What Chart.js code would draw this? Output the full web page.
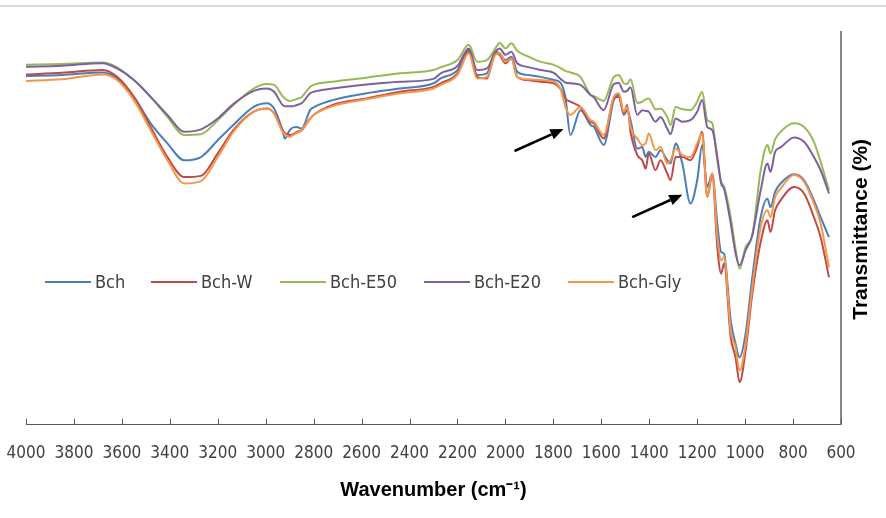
<!DOCTYPE html>
<html>
<head>
<meta charset="utf-8">
<script src="https://cdn.jsdelivr.net/npm/chart.js@4.4.0/dist/chart.umd.min.js"></script>
<style>
  html, body { margin: 0; padding: 0; background: #fff; }
</style>
</head>
<body>
<canvas id="ftir" width="886" height="518"></canvas>
<script>
// wavenumber (cm-1) sampling points
const wavenumbers = [4000,3850,3680,3620,3550,3480,3410,3340,3270,3200,3135,3050,2995,2965,2930,2920,2900,2885,2870,2850,2815,2800,2720,2580,2440,2300,2270,2200,2153,2118,2077,2042,2024,2000,1975,1951,1909,1854,1798,1770,1750,1729,1687,1645,1631,1590,1548,1527,1506,1492,1478,1450,1429,1415,1402,1374,1353,1325,1311,1290,1262,1228,1200,1179,1158,1137,1116,1100,1088,1060,1040,1023,998,970,935,907,894,875,852,796,754,713,685,650];

// transmittance
const bch = [87.0,87.3,87.9,86.4,81.8,75.2,70.2,66.0,66.8,71.0,74.8,79.3,80.2,78.9,73.5,71.4,73.5,74.2,74.3,73.9,78.5,79.2,81.0,82.7,83.9,85.2,86.4,88.5,93.5,87.3,87.7,93.1,92.7,91.0,91.8,88.1,87.3,86.8,86.0,85.3,
  81.8,72.3,78.5,74.8,74.3,69.8,81.0,82.3,77.3,78.5,76.0,68.9,69.3,66.8,68.1,66.8,68.5,66.0,65.2,70.2,65.2,55.2,61.0,69.8,59.3,62.7,50.2,43.1,42.7,26.0,20.2,16.8,22.7,36.8,51.8,56.4,54.3,58.1,60.2,62.5,61.0,56.0,51.8,46.8];
const bchW = [87.4,87.8,88.5,86.8,81.8,74.3,66.8,61.8,62.1,67.7,73.5,78.1,78.9,77.7,73.5,72.8,72.3,72.5,73.1,73.5,76.4,77.3,79.8,81.4,83.1,84.3,85.2,87.7,93.1,86.8,86.4,92.7,92.3,90.2,91.4,86.8,86.0,85.6,85.2,83.8,
  81.4,80.6,79.3,75.6,75.2,71.4,81.4,81.8,77.7,79.8,73.1,67.3,66.0,63.9,67.7,63.5,66.0,62.7,61.0,66.8,66.8,66.0,69.3,73.1,56.8,62.3,44.3,37.7,40.2,21.8,16.8,10.6,18.5,32.7,45.6,51.0,48.1,53.5,56.0,59.3,57.7,51.8,46.8,36.8];
const bchE50 = [89.8,90.0,90.4,89.2,86.0,81.8,76.8,72.3,72.5,76.0,79.8,83.9,85.0,84.8,82.0,81.4,80.8,81.0,81.3,81.8,84.3,84.8,85.6,86.6,87.7,88.5,89.2,91.0,94.8,90.6,91.0,93.9,95.3,93.9,95.2,93.3,92.0,90.6,89.8,89.0,
  88.3,87.9,86.8,82.3,82.0,80.8,86.8,87.3,85.2,85.0,86.2,80.3,80.6,81.2,81.4,78.7,78.9,76.8,74.8,79.3,78.7,78.5,80.6,83.1,76.0,75.2,66.0,60.6,59.5,51.8,43.9,38.9,44.3,47.3,63.5,69.8,67.7,71.2,73.1,75.2,74.3,70.6,65.6,58.5];
const bchE20 = [89.3,89.6,90.2,88.9,86.0,81.8,77.3,73.1,73.7,76.4,80.0,83.3,83.9,83.1,79.8,79.5,79.5,79.5,79.8,80.2,82.7,83.1,83.9,84.9,85.6,86.3,87.7,89.5,93.9,88.5,88.9,93.1,93.9,92.3,93.1,90.2,89.3,88.5,87.8,86.3,
  85.4,85.2,84.8,82.3,81.7,78.5,85.0,85.3,83.1,83.3,84.2,77.3,78.5,78.3,78.1,75.6,76.8,73.9,72.5,76.4,75.6,76.0,78.1,81.0,74.3,73.5,66.8,60.2,58.9,50.2,42.8,39.8,43.5,47.3,58.5,65.2,63.1,68.1,69.2,71.7,70.6,66.8,63.5,57.7];
const bchGly = [85.8,86.2,87.4,86.0,81.0,73.5,66.0,60.2,60.8,66.8,73.1,78.1,78.9,77.7,73.1,72.5,71.8,72.3,72.8,73.5,76.4,77.3,79.5,81.2,82.7,83.9,84.8,87.3,92.7,86.4,86.8,92.3,92.7,90.6,91.4,86.8,86.2,86.0,85.6,83.8,
  79.3,77.3,79.3,76.0,75.6,72.3,81.8,82.7,78.1,79.3,74.3,71.4,69.8,70.2,72.7,68.5,69.3,65.2,66.0,68.9,67.3,66.8,70.2,72.7,56.8,62.7,46.8,41.0,41.8,23.5,19.3,13.5,20.2,34.3,49.3,53.5,51.8,56.8,58.9,62.3,60.6,55.2,50.2,39.3];

const seriesNames = ["Bch", "Bch-W", "Bch-E50", "Bch-E20", "Bch-Gly"];
const seriesValues = [bch, bchW, bchE50, bchE20, bchGly];
const seriesColors = ["#4A7EBB", "#BE4B48", "#98B954", "#7D60A0", "#F79646"];

// arrows: [tail wavenumber, tail value, tip wavenumber, tip value]
const arrows = [
  [1962, 68.3, 1758, 73.8],
  [1471, 51.8, 1262, 57.4]
];

const NARROW = "'DejaVu Sans Condensed', 'Liberation Sans Narrow', 'Liberation Sans', sans-serif";
const TITLE = "'Liberation Sans', Arial, sans-serif";

const extras = {
  id: "extras",
  afterDraw(chart) {
    const { ctx, chartArea, scales } = chart;
    const x = scales.x, y = scales.y;
    ctx.save();

    // thin frame line at the top of the picture
    ctx.fillStyle = "#d9d9d9";
    ctx.fillRect(0, 5, chart.width, 2);

    // tick marks pointing into the plot
    ctx.strokeStyle = "#595959";
    ctx.lineWidth = 1;
    x.ticks.forEach(t => {
      const px = Math.round(x.getPixelForValue(t.value)) + 0.5;
      ctx.beginPath();
      ctx.moveTo(px, chartArea.bottom);
      ctx.lineTo(px, chartArea.bottom - 6);
      ctx.stroke();
    });

    // legend inside the plot
    const legendX = [45, 151, 280, 424, 568];
    const legendY = 282;
    ctx.font = "18px " + NARROW;
    ctx.textBaseline = "middle";
    ctx.fillStyle = "#404040";
    seriesNames.forEach((name, i) => {
      ctx.strokeStyle = seriesColors[i];
      ctx.lineWidth = 2;
      ctx.beginPath();
      ctx.moveTo(legendX[i], legendY);
      ctx.lineTo(legendX[i] + 46, legendY);
      ctx.stroke();
      ctx.fillText(name, legendX[i] + 50, legendY + 1);
    });

    // arrows
    ctx.strokeStyle = "#000";
    ctx.fillStyle = "#000";
    arrows.forEach(a => {
      const x1 = x.getPixelForValue(a[0]), y1 = y.getPixelForValue(a[1]);
      const x2 = x.getPixelForValue(a[2]), y2 = y.getPixelForValue(a[3]);
      const ang = Math.atan2(y2 - y1, x2 - x1);
      const len = 13, half = 5.5;
      const bx = x2 - len * Math.cos(ang), by = y2 - len * Math.sin(ang);
      ctx.lineWidth = 2.5;
      ctx.beginPath();
      ctx.moveTo(x1, y1);
      ctx.lineTo(bx, by);
      ctx.stroke();
      ctx.beginPath();
      ctx.moveTo(x2, y2);
      ctx.lineTo(bx + half * Math.sin(ang), by - half * Math.cos(ang));
      ctx.lineTo(bx - half * Math.sin(ang), by + half * Math.cos(ang));
      ctx.closePath();
      ctx.fill();
    });

    // y axis title, reading bottom to top
    ctx.translate(861, (chartArea.top + chartArea.bottom) / 2 + 1);
    ctx.rotate(-Math.PI / 2);
    ctx.font = "bold 21px " + TITLE;
    ctx.textAlign = "center";
    ctx.textBaseline = "middle";
    ctx.fillStyle = "#000";
    ctx.fillText("Transmittance (%)", 0, 0);
    ctx.restore();
  }
};

new Chart(document.getElementById("ftir"), {
  type: "line",
  data: {
    datasets: seriesNames.map((name, i) => ({
      label: name,
      data: wavenumbers.map((w, j) => ({ x: w, y: seriesValues[i][j] })),
      borderColor: seriesColors[i],
      borderWidth: 2,
      pointRadius: 0,
      cubicInterpolationMode: "monotone",
      order: 5 - i
    }))
  },
  options: {
    responsive: false,
    animation: false,
    devicePixelRatio: 1,
    layout: { padding: { left: 26, right: 45, top: 32, bottom: 0 } },
    plugins: { legend: { display: false }, tooltip: { enabled: false } },
    scales: {
      x: {
        type: "linear",
        reverse: true,
        min: 600,
        max: 4000,
        ticks: {
          stepSize: 200,
          autoSkip: false,
          maxRotation: 0,
          padding: 4,
          color: "#404040",
          font: { family: NARROW, size: 17, lineHeight: 2.9 },
          callback: v => String(v)
        },
        grid: { display: false, drawTicks: false },
        border: { display: true, color: "#595959", width: 1 },
        title: {
          display: true,
          text: "Wavenumber (cm\u207B\u00B9)",
          color: "#000",
          font: { family: TITLE, size: 20, weight: "bold" },
          padding: { top: -4, bottom: 16 }
        }
      },
      y: {
        position: "right",
        min: 0,
        max: 98,
        ticks: { display: false },
        grid: { display: false, drawTicks: false },
        border: { display: true, color: "#868686", width: 2 }
      }
    }
  },
  plugins: [extras]
});
</script>
</body>
</html>
